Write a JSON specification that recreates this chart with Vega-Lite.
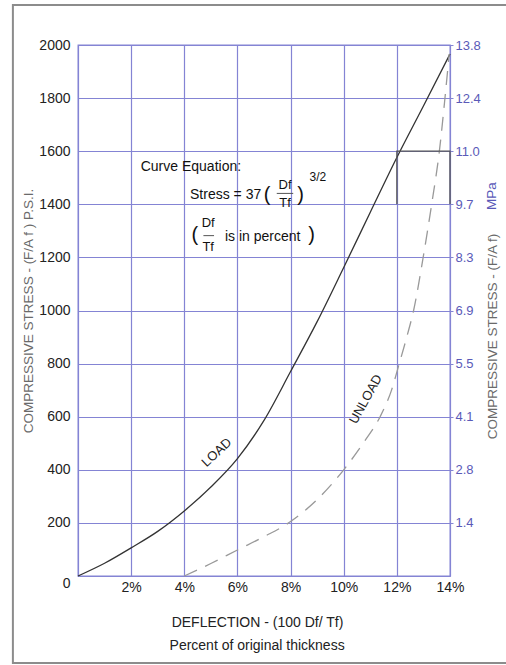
{
  "$schema": "https://vega.github.io/schema/vega-lite/v6.json",
  "width": 372,
  "height": 531,
  "autosize": "none",
  "padding": {"left": 78, "top": 45, "right": 56, "bottom": 89},
  "background": "white",
  "config": {
    "font": "Liberation Sans",
    "view": {"stroke": "#8484d4", "strokeWidth": 1.3},
    "axis": {"labelFont": "Liberation Sans", "titleFont": "Liberation Sans"}
  },
  "datasets": {
    "load": [
      {"x": 0, "y": 0}, {"x": 1, "y": 48}, {"x": 2, "y": 106}, {"x": 3, "y": 168},
      {"x": 4, "y": 245}, {"x": 5, "y": 335}, {"x": 6, "y": 442}, {"x": 7, "y": 586},
      {"x": 8, "y": 770}, {"x": 9, "y": 958}, {"x": 10, "y": 1162}, {"x": 11, "y": 1370},
      {"x": 12, "y": 1576}, {"x": 13, "y": 1770}, {"x": 14, "y": 1966}
    ],
    "unload": [
      {"x": 4, "y": 0}, {"x": 5, "y": 47}, {"x": 6, "y": 98}, {"x": 7, "y": 148},
      {"x": 8, "y": 205}, {"x": 9, "y": 288}, {"x": 10, "y": 400}, {"x": 10.8, "y": 510},
      {"x": 11.37, "y": 600}, {"x": 11.8, "y": 700}, {"x": 12.09, "y": 800}, {"x": 12.4, "y": 910},
      {"x": 12.63, "y": 1000}, {"x": 12.99, "y": 1200}, {"x": 13.31, "y": 1400}, {"x": 13.6, "y": 1600},
      {"x": 13.81, "y": 1800}, {"x": 13.97, "y": 1966}
    ],
    "box": [
      {"i": 0, "x": 12, "y": 1400}, {"i": 1, "x": 12, "y": 1600},
      {"i": 2, "x": 14, "y": 1600}, {"i": 3, "x": 14, "y": 1400}
    ],
    "mainText": [
      {"x": 2.36, "y": 1539, "t": "Curve Equation:"},
      {"x": 4.215, "y": 1435, "t": "Stress = 37"},
      {"x": 5.53, "y": 1278, "t": "is in percent"}
    ],
    "frac": [
      {"x": 7.79, "y": 1473, "t": "Df"}, {"x": 7.79, "y": 1404, "t": "Tf"},
      {"x": 4.9, "y": 1328, "t": "Df"}, {"x": 4.9, "y": 1238, "t": "Tf"}
    ],
    "parens": [
      {"x": 7.12, "y": 1435, "t": "("}, {"x": 8.38, "y": 1435, "t": ")"},
      {"x": 4.4, "y": 1284, "t": "("}, {"x": 8.79, "y": 1284, "t": ")"}
    ],
    "expo": [{"x": 9.03, "y": 1504, "t": "3/2"}],
    "bars": [
      {"x": 7.48, "x2": 8.1, "y": 1441},
      {"x": 4.72, "x2": 5.12, "y": 1282}
    ]
  },
  "resolve": {"axis": {"x": "independent", "y": "independent"}},
  "layer": [
    {
      "data": {"name": "load"},
      "mark": {"type": "line", "color": "#333333", "strokeWidth": 1.3, "interpolate": "monotone", "clip": false},
      "encoding": {
        "x": {
          "field": "x", "type": "quantitative",
          "scale": {"domain": [0, 14], "nice": false},
          "axis": {
            "orient": "bottom",
            "values": [0, 2, 4, 6, 8, 10, 12, 14],
            "labelExpr": "datum.value == 0 ? '' : datum.value + '%'",
            "labelFlush": false, "labelOverlap": false,
            "grid": true, "gridColor": "#8484d4", "gridWidth": 1.2,
            "ticks": false, "domain": false,
            "labelFontSize": 14, "labelColor": "#222222", "labelPadding": 4,
            "title": "DEFLECTION - (100 Df/ Tf)",
            "titleFontSize": 14, "titleFontWeight": "normal", "titleColor": "#222222",
            "titleX": 179, "titleY": 46,
            "titleAlign": "center", "titleBaseline": "middle"
          }
        },
        "y": {
          "field": "y", "type": "quantitative",
          "scale": {"domain": [0, 2000], "nice": false},
          "axis": {
            "orient": "left",
            "values": [0, 200, 400, 600, 800, 1000, 1200, 1400, 1600, 1800, 2000],
            "format": "d",
            "labelFlush": false, "labelOverlap": false,
            "grid": true, "gridColor": "#8484d4", "gridWidth": 1.2,
            "ticks": false, "domain": false,
            "labelFontSize": 14, "labelColor": "#222222", "labelPadding": 8,
            "labelBaseline": {"condition": {"test": "datum.value == 0", "value": "top"}, "value": "middle"},
            "title": "COMPRESSIVE STRESS - (F/A f )  P.S.I.",
            "titleFontSize": 13.5, "titleFontWeight": "normal", "titleColor": "#6a6a6a",
            "titleAngle": 270, "titleX": -50, "titleY": 265.5,
            "titleAlign": "center", "titleBaseline": "middle"
          }
        }
      }
    },
    {
      "data": {"values": [{}]},
      "mark": {"type": "rect", "fillOpacity": 0, "stroke": "#8c8c8c", "strokeWidth": 2, "clip": false},
      "encoding": {
        "x": {"datum": -2.45, "type": "quantitative", "scale": {"domain": [0, 14], "nice": false}, "axis": null},
        "x2": {"datum": 20},
        "y": {"datum": 2151, "type": "quantitative", "scale": {"domain": [0, 2000], "nice": false}, "axis": null},
        "y2": {"datum": -328}
      }
    },
    {
      "data": {"name": "unload"},
      "mark": {"type": "line", "color": "#999999", "strokeWidth": 1.3, "strokeDash": [14, 9], "interpolate": "monotone", "clip": false},
      "encoding": {
        "x": {"field": "x", "type": "quantitative", "scale": {"domain": [0, 14], "nice": false}, "axis": null},
        "y": {
          "field": "y", "type": "quantitative",
          "scale": {"domain": [0, 2000], "nice": false},
          "axis": {
            "orient": "right",
            "values": [200, 400, 600, 800, 1000, 1200, 1400, 1600, 1800, 2000],
            "labelExpr": "format(datum.value * 0.0068948, '.1f')",
            "labelFlush": false, "labelOverlap": false,
            "grid": false, "ticks": true, "tickSize": 3, "tickColor": "#8484d4",
            "domain": false,
            "labelFontSize": 13, "labelColor": "#5a5ab8", "labelPadding": 2,
            "title": "COMPRESSIVE STRESS - (F/A f)",
            "titleFontSize": 13.5, "titleFontWeight": "normal", "titleColor": "#6a6a6a",
            "titleAngle": 270, "titleX": 42, "titleY": 291,
            "titleAlign": "center", "titleBaseline": "middle"
          }
        }
      }
    },
    {
      "data": {"name": "box"},
      "mark": {"type": "line", "color": "#555555", "strokeWidth": 1.3, "clip": false},
      "encoding": {
        "x": {"field": "x", "type": "quantitative", "scale": {"domain": [0, 14], "nice": false}, "axis": null},
        "y": {"field": "y", "type": "quantitative", "scale": {"domain": [0, 2000], "nice": false}, "axis": null},
        "order": {"field": "i"}
      }
    },
    {
      "data": {"name": "mainText"},
      "mark": {"type": "text", "align": "left", "baseline": "middle", "fontSize": 14, "color": "#111111", "clip": false},
      "encoding": {
        "x": {"field": "x", "type": "quantitative", "scale": {"domain": [0, 14], "nice": false}, "axis": null},
        "y": {"field": "y", "type": "quantitative", "scale": {"domain": [0, 2000], "nice": false}, "axis": null},
        "text": {"field": "t"}
      }
    },
    {
      "data": {"name": "frac"},
      "mark": {"type": "text", "align": "center", "baseline": "middle", "fontSize": 13, "color": "#111111", "clip": false},
      "encoding": {
        "x": {"field": "x", "type": "quantitative", "scale": {"domain": [0, 14], "nice": false}, "axis": null},
        "y": {"field": "y", "type": "quantitative", "scale": {"domain": [0, 2000], "nice": false}, "axis": null},
        "text": {"field": "t"}
      }
    },
    {
      "data": {"name": "parens"},
      "mark": {"type": "text", "align": "center", "baseline": "middle", "fontSize": 20, "color": "#111111", "clip": false},
      "encoding": {
        "x": {"field": "x", "type": "quantitative", "scale": {"domain": [0, 14], "nice": false}, "axis": null},
        "y": {"field": "y", "type": "quantitative", "scale": {"domain": [0, 2000], "nice": false}, "axis": null},
        "text": {"field": "t"}
      }
    },
    {
      "data": {"name": "expo"},
      "mark": {"type": "text", "align": "center", "baseline": "middle", "fontSize": 12, "color": "#111111", "clip": false},
      "encoding": {
        "x": {"field": "x", "type": "quantitative", "scale": {"domain": [0, 14], "nice": false}, "axis": null},
        "y": {"field": "y", "type": "quantitative", "scale": {"domain": [0, 2000], "nice": false}, "axis": null},
        "text": {"field": "t"}
      }
    },
    {
      "data": {"name": "bars"},
      "mark": {"type": "rule", "color": "#555555", "strokeWidth": 1, "clip": false},
      "encoding": {
        "x": {"field": "x", "type": "quantitative", "scale": {"domain": [0, 14], "nice": false}, "axis": null},
        "x2": {"field": "x2"},
        "y": {"field": "y", "type": "quantitative", "scale": {"domain": [0, 2000], "nice": false}, "axis": null}
      }
    },
    {
      "data": {"values": [{"label": "LOAD"}]},
      "mark": {"type": "text", "align": "center", "baseline": "middle", "fontSize": 13, "angle": 317, "color": "#222222", "clip": false},
      "encoding": {
        "x": {"datum": 5.22, "type": "quantitative", "scale": {"domain": [0, 14], "nice": false}, "axis": null},
        "y": {"datum": 465, "type": "quantitative", "scale": {"domain": [0, 2000], "nice": false}, "axis": null},
        "text": {"field": "label"}
      }
    },
    {
      "data": {"values": [{"label": "UNLOAD"}]},
      "mark": {"type": "text", "align": "center", "baseline": "middle", "fontSize": 13, "angle": 299, "color": "#222222", "clip": false},
      "encoding": {
        "x": {"datum": 10.83, "type": "quantitative", "scale": {"domain": [0, 14], "nice": false}, "axis": null},
        "y": {"datum": 666, "type": "quantitative", "scale": {"domain": [0, 2000], "nice": false}, "axis": null},
        "text": {"field": "label"}
      }
    },
    {
      "data": {"values": [{"label": "Percent of original thickness"}]},
      "mark": {"type": "text", "align": "center", "baseline": "middle", "fontSize": 14, "color": "#222222", "clip": false},
      "encoding": {
        "x": {"datum": 6.74, "type": "quantitative", "scale": {"domain": [0, 14], "nice": false}, "axis": null},
        "y": {"datum": -264, "type": "quantitative", "scale": {"domain": [0, 2000], "nice": false}, "axis": null},
        "text": {"field": "label"}
      }
    },
    {
      "data": {"values": [{"label": "MPa"}]},
      "mark": {"type": "text", "align": "center", "baseline": "middle", "fontSize": 13.5, "angle": 270, "color": "#5a5ab8", "clip": false},
      "encoding": {
        "x": {"datum": 15.58, "type": "quantitative", "scale": {"domain": [0, 14], "nice": false}, "axis": null},
        "y": {"datum": 1431, "type": "quantitative", "scale": {"domain": [0, 2000], "nice": false}, "axis": null},
        "text": {"field": "label"}
      }
    }
  ]
}
